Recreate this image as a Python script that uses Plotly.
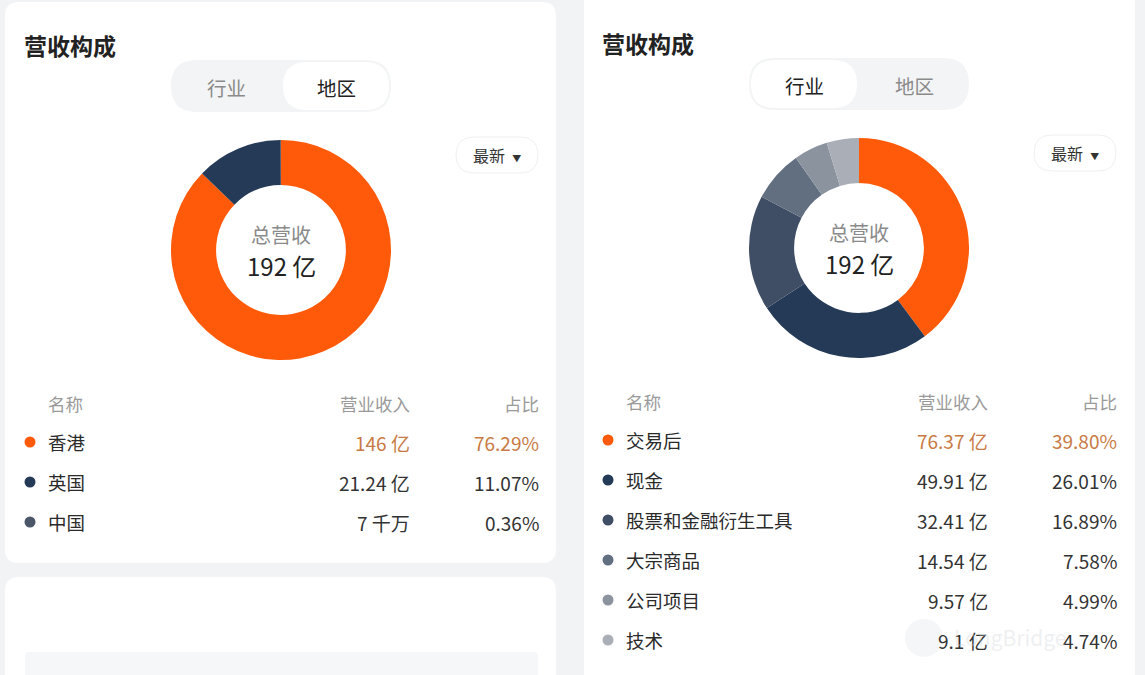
import plotly.graph_objects as go

# ---------------- data ----------------
left_names = ["香港", "英国", "中国"]
left_revenue = [146.0, 21.24, 0.07]          # 亿
left_revenue_text = ["146 亿", "21.24 亿", "7 千万"]
left_share_text = ["76.29%", "11.07%", "0.36%"]
left_colors = ["#ff5a0a", "#243a56", "#4b5669"]

right_names = ["交易后", "现金", "股票和金融衍生工具", "大宗商品", "公司项目", "技术"]
right_revenue = [76.37, 49.91, 32.41, 14.54, 9.57, 9.1]   # 亿
right_revenue_text = ["76.37 亿", "49.91 亿", "32.41 亿", "14.54 亿", "9.57 亿", "9.1 亿"]
right_share_text = ["39.80%", "26.01%", "16.89%", "7.58%", "4.99%", "4.74%"]
right_colors = ["#ff5a0a", "#243a56", "#3f4e64", "#626f81", "#8b939f", "#a9aeb7"]

total_label = "192 亿"
title_text = "营收构成"
tabs = ["行业", "地区"]
headers = ["名称", "营业收入", "占比"]

W, H = 1145, 675
FONT = "Noto Sans CJK SC"
BG = "#f2f3f5"


def rrect(x0, y0, x1, y1, r):
    return (f"M{x0+r},{y0} L{x1-r},{y0} Q{x1},{y0} {x1},{y0+r} "
            f"L{x1},{y1-r} Q{x1},{y1} {x1-r},{y1} L{x0+r},{y1} "
            f"Q{x0},{y1} {x0},{y1-r} L{x0},{y0+r} Q{x0},{y0} {x0+r},{y0} Z")


fig = go.Figure()
shapes = []
ann = []


def add_shape(path, fill, line="rgba(0,0,0,0)", lw=0):
    shapes.append(dict(type="path", path=path, xref="x", yref="y",
                       fillcolor=fill, line=dict(color=line, width=lw), layer="below"))


def text(x, y, s, size, color, anchor="left", weight="normal"):
    if anchor == "left":
        x -= 3
    elif anchor == "right":
        x += 3
    ann.append(dict(x=x, y=y, xref="x", yref="y", text=s, showarrow=False,
                    xanchor=anchor, yanchor="middle",
                    font=dict(family=FONT, size=size, color=color, weight=weight)))


# cards
add_shape(rrect(5, 2, 556, 563, 14), "#ffffff")
add_shape(rrect(5, 577, 556, 700, 14), "#ffffff")
add_shape(rrect(25, 652, 538, 700, 4), "#f6f7f8")
add_shape(rrect(584, -10, 1135, 700, 14), "#ffffff")


def panel(ox, top, cx, cy, names, revenue, rev_text, share_text, colors, active):
    # title
    text(ox + 20, top + 43, title_text, 23, "#222222", weight="bold")
    # toggle
    tx0 = cx - 110
    add_shape(rrect(tx0, top + 58, tx0 + 220, top + 110, 26), "#f3f4f5")
    if active == 0:
        add_shape(rrect(tx0 + 2, top + 60, tx0 + 108, top + 108, 24), "#ffffff")
    else:
        add_shape(rrect(tx0 + 112, top + 60, tx0 + 218, top + 108, 24), "#ffffff")
    for i, t in enumerate(tabs):
        text(tx0 + 55 + i * 110, top + 85, t, 19.5,
             "#222222" if i == active else "#8a8a8a", anchor="center")
    # latest button
    bx1 = ox + 533
    add_shape(rrect(bx1 - 82, top + 135, bx1, top + 171, 18), "#ffffff", "#eff0f2", 1)
    text(bx1 - 41, top + 153, "最新  <span style='font-size:9px'>▼</span>", 16,
         "#333333", anchor="center")
    # donut center text
    text(cx, cy - 16, "总营收", 20, "#8a8a8a", anchor="center")
    text(cx, cy + 15, total_label, 24, "#222222", anchor="center")
    # table header
    hy = top + 401
    text(ox + 44, hy, headers[0], 17.5, "#9a9a9a")
    text(ox + 404, hy, headers[1], 17.5, "#9a9a9a", anchor="right")
    text(ox + 533, hy, headers[2], 17.5, "#9a9a9a", anchor="right")
    ys = []
    for i, n in enumerate(names):
        y = top + 440 + 40 * i
        ys.append(y)
        c = "#c97a44" if i == 0 else "#333333"
        text(ox + 44, y, n, 18.5, "#2a2a2a")
        text(ox + 404, y, rev_text[i], 19, c, anchor="right")
        text(ox + 533, y, share_text[i], 19, c, anchor="right")
    fig.add_trace(go.Scatter(x=[ox + 25] * len(names), y=ys, mode="markers",
                             marker=dict(size=11, color=colors),
                             hoverinfo="skip", showlegend=False))
    # donut
    r = 110
    fig.add_trace(go.Pie(values=revenue, labels=names, sort=False, direction="clockwise",
                         rotation=0, hole=0.59, textinfo="none",
                         marker=dict(colors=colors, line=dict(width=0)),
                         domain=dict(x=[(cx - r) / W, (cx + r) / W],
                                     y=[1 - (cy + r) / H, 1 - (cy - r) / H]),
                         showlegend=False))


panel(5, 2, 281, 250, left_names, left_revenue, left_revenue_text, left_share_text,
      left_colors, 1)
panel(583, 0, 859, 248, right_names, right_revenue, right_revenue_text, right_share_text,
      right_colors, 0)

# watermark (faint, behind the last row)
shapes.append(dict(type="circle", xref="x", yref="y", x0=905, y0=619, x1=943, y1=657,
                   fillcolor="rgba(225,228,232,0.35)", line=dict(width=0), layer="below"))
text(1010, 637, "LongBridge", 21, "rgba(205,209,214,0.35)", anchor="center")

fig.update_layout(
    width=W, height=H, margin=dict(l=0, r=0, t=0, b=0),
    paper_bgcolor=BG, plot_bgcolor="rgba(0,0,0,0)",
    xaxis=dict(range=[0, W], visible=False, fixedrange=True),
    yaxis=dict(range=[H, 0], visible=False, fixedrange=True),
    shapes=shapes, annotations=ann, showlegend=False,
)
fig.write_html("out.html", config=dict(displayModeBar=False))
